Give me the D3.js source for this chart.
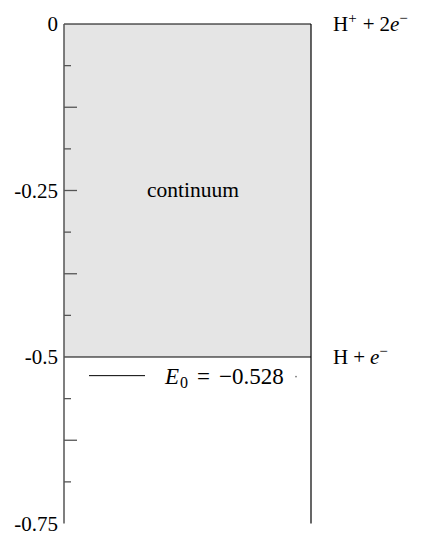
<!DOCTYPE html>
<html><head><meta charset="utf-8">
<script src="https://cdn.jsdelivr.net/npm/d3@7"></script>
<style>body{margin:0;background:#fff}svg{display:block}</style>
</head><body>
<svg id="c" width="425" height="534"></svg>
<script>
const yDomain = [-0.75, 0];
const majorTicks = [0, -0.25, -0.5, -0.75];
const majorLabels = ["0", "-0.25", "-0.5", "-0.75"];
const minorTicks = [-0.0625, -0.125, -0.1875, -0.3125, -0.375, -0.4375, -0.5625, -0.625, -0.6875];
const longMinor = [-0.125, -0.375, -0.625];
const continuum = [0, -0.5];
const groundEnergy = -0.528;
const levelLabels = [{v: 0, t: "H⁺ + 2e⁻"}, {v: -0.5, t: "H + e⁻"}];

const FONT = "'Liberation Serif', 'Times New Roman', Times, serif";
const svg = d3.select("#c");
const x0 = 64, x1 = 311;
const y = d3.scaleLinear().domain(yDomain).range([523.5, 24]);

function txt(sel, size) {
  return sel.style("font-family", FONT).style("font-size", size + "px").attr("fill", "#000");
}

svg.append("rect").attr("x", x0).attr("width", x1 - x0)
  .attr("y", y(continuum[0])).attr("height", y(continuum[1]) - y(continuum[0]))
  .attr("fill", "#e5e5e5");

svg.append("line").attr("x1", x0).attr("x2", x1).attr("y1", y(0)).attr("y2", y(0)).attr("stroke", "#000").attr("stroke-width", 1.2);
svg.append("line").attr("x1", x0).attr("x2", x1).attr("y1", y(-0.5)).attr("y2", y(-0.5)).attr("stroke", "#000").attr("stroke-width", 1.2);
svg.append("line").attr("x1", x1).attr("x2", x1).attr("y1", y(0)).attr("y2", y(-0.75)).attr("stroke", "#000").attr("stroke-width", 1.2);

const axisG = svg.append("g").attr("transform", `translate(${x0},0)`);
axisG.append("line").attr("x1", 0).attr("x2", 0).attr("y1", y(0)).attr("y2", y(-0.75)).attr("stroke", "#555").attr("stroke-width", 1.5);
axisG.selectAll("line.minor").data(minorTicks).enter().append("line").attr("class","minor")
  .attr("x1", 0).attr("x2", d => longMinor.includes(d) ? 13 : 7)
  .attr("y1", d => y(d)).attr("y2", d => y(d)).attr("stroke", "#555").attr("stroke-width", 1.3);
axisG.selectAll("line.major").data([-0.25]).enter().append("line").attr("class","major")
  .attr("x1", 0).attr("x2", 13).attr("y1", d => y(d)).attr("y2", d => y(d)).attr("stroke", "#555").attr("stroke-width", 1.3);
txt(axisG.selectAll("text").data(majorTicks).enter().append("text"), 21)
  .attr("x", -6).attr("y", d => y(d) + 7).attr("text-anchor", "end")
  .text((d, i) => majorLabels[i]);

txt(svg.append("text"), 21.5).attr("x", 193).attr("y", y(-0.25) + 6).attr("text-anchor", "middle")
  .text("continuum");

svg.append("line").attr("x1", 89).attr("x2", 145).attr("y1", y(groundEnergy)).attr("y2", y(groundEnergy)).attr("stroke", "#000").attr("stroke-width", 1);
const gt = txt(svg.append("text"), 23).attr("x", 165).attr("y", y(groundEnergy) + 8);
gt.append("tspan").attr("font-style", "italic").text("E");
gt.append("tspan").style("font-size", "16px").attr("dy", 4).attr("dx", 1).text("0");
gt.append("tspan").attr("dy", -4).attr("dx", 9).text("=");
gt.append("tspan").attr("dx", 9).text("−" + Math.abs(groundEnergy).toFixed(3));
svg.append("circle").attr("cx", 296).attr("cy", y(groundEnergy) + 1).attr("r", 0.8).attr("fill", "#666");

const l0 = txt(svg.append("text"), 21).attr("x", 333).attr("y", y(levelLabels[0].v) + 7);
l0.append("tspan").text("H");
l0.append("tspan").style("font-size", "15px").attr("dy", -8).text("+");
l0.append("tspan").attr("dy", 8).attr("dx", 6).text("+");
l0.append("tspan").attr("dx", 5).text("2");
l0.append("tspan").attr("font-style", "italic").text("e");
l0.append("tspan").style("font-size", "15px").attr("dy", -8).text("−");

const l1 = txt(svg.append("text"), 21).attr("x", 333).attr("y", y(levelLabels[1].v) + 7);
l1.append("tspan").text("H");
l1.append("tspan").attr("dx", 5).text("+");
l1.append("tspan").attr("dx", 5).attr("font-style", "italic").text("e");
l1.append("tspan").style("font-size", "15px").attr("dy", -8).text("−");
</script>
</body></html>
